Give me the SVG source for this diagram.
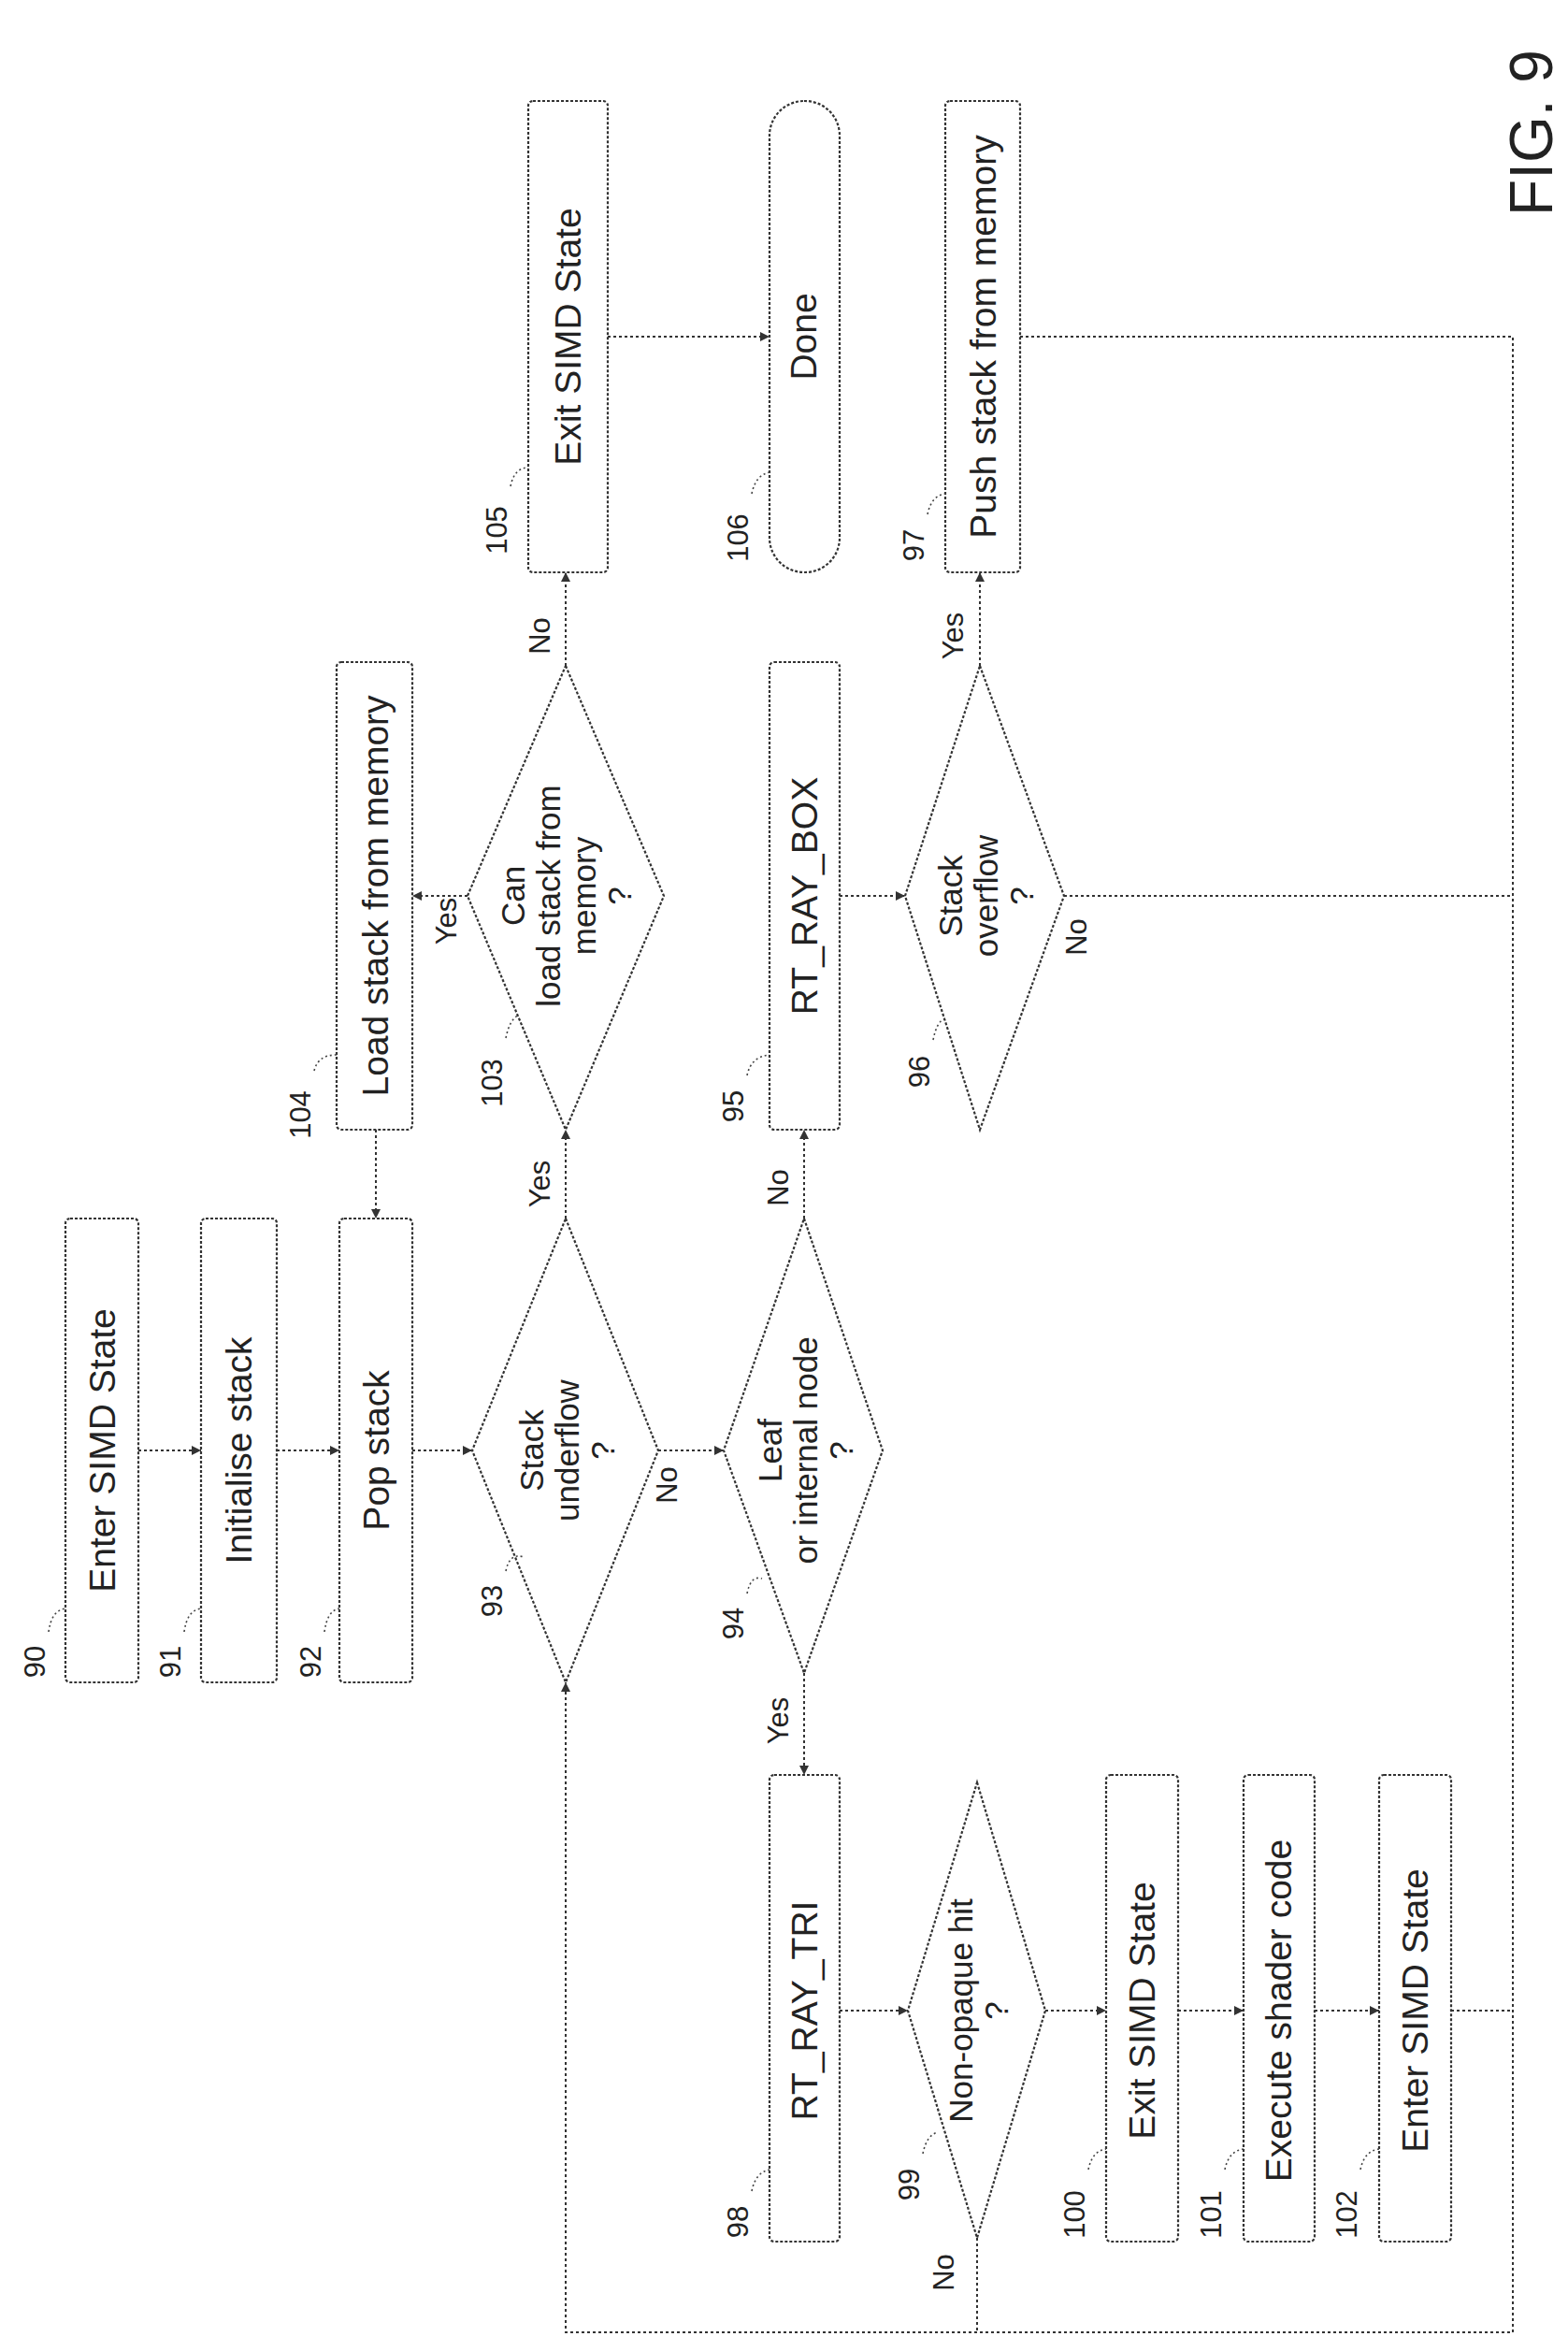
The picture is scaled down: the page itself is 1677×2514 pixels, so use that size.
<svg xmlns="http://www.w3.org/2000/svg" width="1677" height="2514" viewBox="0 0 1677 2514">
<style>
.b{fill:#fff;stroke:#333;stroke-width:2.2;stroke-dasharray:3 2}
.c{fill:none;stroke:#333;stroke-width:2;stroke-dasharray:3 3}
.l{fill:none;stroke:#444;stroke-width:1.6;stroke-dasharray:2 3}
text{font-family:"Liberation Sans",Arial,sans-serif;fill:#222}
.t{font-size:39px;text-anchor:middle}
.d{font-size:35px;text-anchor:middle}
.n{font-size:31px;text-anchor:middle}
.y{font-size:31px;text-anchor:middle}
</style>
<defs>
<marker id="a" viewBox="0 0 10 10" refX="10" refY="5" markerWidth="10" markerHeight="10" markerUnits="userSpaceOnUse" orient="auto"><path d="M0,0 L10,5 L0,10 z" fill="#333"/></marker>
</defs>
<g id="connectors">
<path class="c" d="M148,1551 H215" marker-end="url(#a)"/>
<path class="c" d="M296,1551 H363" marker-end="url(#a)"/>
<path class="c" d="M441,1551 H505" marker-end="url(#a)"/>
<path class="c" d="M704,1551 H774" marker-end="url(#a)"/>
<path class="c" d="M605,1303 V1208" marker-end="url(#a)"/>
<path class="c" d="M500,958 H441" marker-end="url(#a)"/>
<path class="c" d="M402,1208 V1303" marker-end="url(#a)"/>
<path class="c" d="M605,712 V612" marker-end="url(#a)"/>
<path class="c" d="M650,360 H823" marker-end="url(#a)"/>
<path class="c" d="M860,1303 V1208" marker-end="url(#a)"/>
<path class="c" d="M898,958 H968" marker-end="url(#a)"/>
<path class="c" d="M1048,712 V612" marker-end="url(#a)"/>
<path class="c" d="M1138,958 H1618"/>
<path class="c" d="M1091,360 H1618 V2494 H605 V1799" marker-end="url(#a)"/>
<path class="c" d="M1552,2150 H1618"/>
<path class="c" d="M860,1789 V1898" marker-end="url(#a)"/>
<path class="c" d="M898,2150 H971" marker-end="url(#a)"/>
<path class="c" d="M1118,2150 H1183" marker-end="url(#a)"/>
<path class="c" d="M1260,2150 H1330" marker-end="url(#a)"/>
<path class="c" d="M1406,2150 H1475" marker-end="url(#a)"/>
<path class="c" d="M1045,2393 V2494"/>
<text class="y" transform="translate(724,1588) rotate(-90)">No</text>
<text class="y" transform="translate(588,1266) rotate(-90)">Yes</text>
<text class="y" transform="translate(488,985) rotate(-90)">Yes</text>
<text class="y" transform="translate(588,680) rotate(-90)">No</text>
<text class="y" transform="translate(843,1270) rotate(-90)">No</text>
<text class="y" transform="translate(1030,680) rotate(-90)">Yes</text>
<text class="y" transform="translate(1162,1002) rotate(-90)">No</text>
<text class="y" transform="translate(843,1840) rotate(-90)">Yes</text>
<text class="y" transform="translate(1020,2430) rotate(-90)">No</text>
</g>
<g id="n90"><rect class="b" x="70" y="1303" width="78" height="496" rx="5"/><text class="t" transform="translate(123,1551) rotate(-90)">Enter SIMD State</text><text class="n" transform="translate(48,1777) rotate(-90)">90</text><path class="l" d="M52,1745 Q55,1722 70,1720"/></g>
<g id="n91"><rect class="b" x="215" y="1303" width="81" height="496" rx="5"/><text class="t" transform="translate(269,1551) rotate(-90)">Initialise stack</text><text class="n" transform="translate(193,1777) rotate(-90)">91</text><path class="l" d="M197,1745 Q200,1722 215,1720"/></g>
<g id="n92"><rect class="b" x="363" y="1303" width="78" height="496" rx="5"/><text class="t" transform="translate(416,1551) rotate(-90)">Pop stack</text><text class="n" transform="translate(343,1777) rotate(-90)">92</text><path class="l" d="M347,1745 Q350,1722 363,1720"/></g>
<g id="n93"><path class="b" d="M605,1303 L704,1551 L605,1799 L505,1551 Z"/><text class="d" transform="translate(605,1551) rotate(-90)"><tspan x="0" dy="-24">Stack</tspan><tspan x="0" dy="38">underflow</tspan><tspan x="0" dy="38">?</tspan></text><text class="n" transform="translate(537,1712) rotate(-90)">93</text><path class="l" d="M541,1680 Q545,1660 560,1665"/></g>
<g id="n94"><path class="b" d="M860,1303 L944,1551 L860,1789 L774,1551 Z"/><text class="d" transform="translate(860,1551) rotate(-90)"><tspan x="0" dy="-24">Leaf</tspan><tspan x="0" dy="38">or internal node</tspan><tspan x="0" dy="38">?</tspan></text><text class="n" transform="translate(795,1736) rotate(-90)">94</text><path class="l" d="M799,1704 Q803,1684 815,1688"/></g>
<g id="n103"><path class="b" d="M605,712 L710,958 L605,1208 L500,958 Z"/><text class="d" transform="translate(605,958) rotate(-90)"><tspan x="0" dy="-44">Can</tspan><tspan x="0" dy="38">load stack from</tspan><tspan x="0" dy="38">memory</tspan><tspan x="0" dy="38">?</tspan></text><text class="n" transform="translate(537,1158) rotate(-90)">103</text><path class="l" d="M541,1110 Q545,1090 555,1085"/></g>
<g id="n104"><rect class="b" x="360" y="708" width="81" height="500" rx="5"/><text class="t" transform="translate(415,958) rotate(-90)">Load stack from memory</text><text class="n" transform="translate(332,1192) rotate(-90)">104</text><path class="l" d="M336,1145 Q340,1128 360,1128"/></g>
<g id="n105"><rect class="b" x="565" y="108" width="85" height="504" rx="5"/><text class="t" transform="translate(621,360) rotate(-90)">Exit SIMD State</text><text class="n" transform="translate(542,567) rotate(-90)">105</text><path class="l" d="M546,520 Q550,500 565,500"/></g>
<g id="n106"><rect class="b" x="823" y="108" width="75" height="504" rx="37"/><text class="t" transform="translate(873,360) rotate(-90)">Done</text><text class="n" transform="translate(800,575) rotate(-90)">106</text><path class="l" d="M804,528 Q808,508 823,505"/></g>
<g id="n97"><rect class="b" x="1011" y="108" width="80" height="504" rx="5"/><text class="t" transform="translate(1065,360) rotate(-90)">Push stack from memory</text><text class="n" transform="translate(988,583) rotate(-90)">97</text><path class="l" d="M992,550 Q996,530 1011,528"/></g>
<g id="n95"><rect class="b" x="823" y="708" width="75" height="500" rx="5"/><text class="t" transform="translate(874,958) rotate(-90)">RT_RAY_BOX</text><text class="n" transform="translate(795,1183) rotate(-90)">95</text><path class="l" d="M799,1150 Q803,1130 823,1128"/></g>
<g id="n96"><path class="b" d="M1048,712 L1138,958 L1048,1208 L968,958 Z"/><text class="d" transform="translate(1053,958) rotate(-90)"><tspan x="0" dy="-24">Stack</tspan><tspan x="0" dy="38">overflow</tspan><tspan x="0" dy="38">?</tspan></text><text class="n" transform="translate(994,1146) rotate(-90)">96</text><path class="l" d="M998,1112 Q1002,1092 1010,1090"/></g>
<g id="n98"><rect class="b" x="823" y="1898" width="75" height="499" rx="5"/><text class="t" transform="translate(874,2150) rotate(-90)">RT_RAY_TRI</text><text class="n" transform="translate(800,2376) rotate(-90)">98</text><path class="l" d="M804,2343 Q808,2323 823,2320"/></g>
<g id="n99"><path class="b" d="M1045,1906 L1118,2150 L1045,2393 L971,2150 Z"/><text class="d" transform="translate(1045,2150) rotate(-90)"><tspan x="0" dy="-5">Non-opaque hit</tspan><tspan x="0" dy="38">?</tspan></text><text class="n" transform="translate(983,2336) rotate(-90)">99</text><path class="l" d="M987,2303 Q991,2283 1003,2280"/></g>
<g id="n100"><rect class="b" x="1183" y="1898" width="77" height="499" rx="5"/><text class="t" transform="translate(1235,2150) rotate(-90)">Exit SIMD State</text><text class="n" transform="translate(1160,2368) rotate(-90)">100</text><path class="l" d="M1164,2320 Q1168,2300 1183,2298"/></g>
<g id="n101"><rect class="b" x="1330" y="1898" width="76" height="499" rx="5"/><text class="t" transform="translate(1381,2150) rotate(-90)">Execute shader code</text><text class="n" transform="translate(1306,2368) rotate(-90)">101</text><path class="l" d="M1310,2320 Q1314,2300 1330,2298"/></g>
<g id="n102"><rect class="b" x="1475" y="1898" width="77" height="499" rx="5"/><text class="t" transform="translate(1527,2150) rotate(-90)">Enter SIMD State</text><text class="n" transform="translate(1451,2368) rotate(-90)">102</text><path class="l" d="M1455,2320 Q1459,2300 1475,2298"/></g>
<text transform="translate(1660,142) rotate(-90)" style="font-size:64px;text-anchor:middle">FIG. 9</text>
</svg>
